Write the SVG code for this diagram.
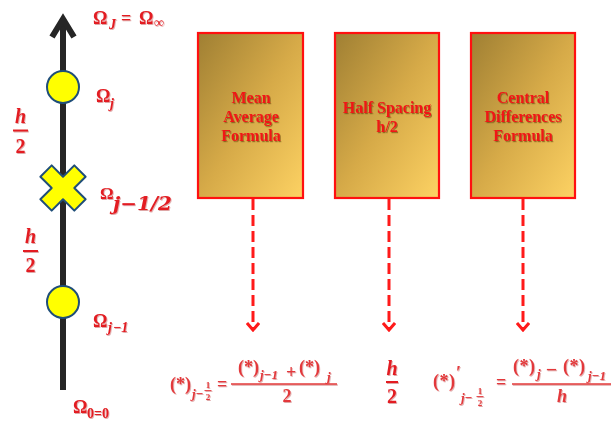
<svg xmlns="http://www.w3.org/2000/svg" width="611" height="424" viewBox="0 0 611 424">
<defs>
<linearGradient id="gold" x1="0" y1="0" x2="1" y2="1">
<stop offset="0" stop-color="#9f7f33"/>
<stop offset="0.5" stop-color="#d6aa48"/>
<stop offset="1" stop-color="#fdd263"/>
</linearGradient>
<filter id="sh" x="-10%" y="-10%" width="130%" height="140%">
<feDropShadow dx="1" dy="1.2" stdDeviation="0.7" flood-color="#5a3800" flood-opacity="0.55"/>
</filter>
<filter id="sh2" x="-10%" y="-10%" width="130%" height="140%">
<feDropShadow dx="0.8" dy="1" stdDeviation="0.6" flood-color="#a01010" flood-opacity="0.35"/>
</filter>
<marker id="chev" viewBox="0 0 10 14" refX="8" refY="7" markerWidth="10" markerHeight="14" markerUnits="userSpaceOnUse" orient="auto">
<path d="M1,1 L8,7 L1,13" fill="none" stroke="#ff1a1a" stroke-width="3"/>
</marker>
</defs>
<style>
.lbl{font-family:"Liberation Serif",serif;font-weight:bold;fill:#e31e24;}
.sub{font-family:"Liberation Serif",serif;font-weight:bold;font-style:italic;fill:#e31e24;}
.box{fill:url(#gold);stroke:#ff1010;stroke-width:2.2;}
.btxt{font-family:"Liberation Serif",serif;font-weight:bold;font-size:16px;fill:#f01818;text-anchor:middle;}
.conn{stroke:#ff1a1a;stroke-width:3;stroke-dasharray:11 5;fill:none;}
.fm{font-family:"Liberation Serif",serif;font-weight:bold;font-size:18px;fill:#e3383a;}
.fs{font-family:"Liberation Serif",serif;font-weight:bold;font-style:italic;font-size:13px;fill:#e3383a;}
.ft{font-family:"Liberation Serif",serif;font-weight:bold;font-size:9px;fill:#e3383a;}
.pt{fill:#ffff00;stroke:#1f4e79;stroke-width:2;}
</style>
<rect width="611" height="424" fill="#ffffff"/>

<g id="axis">
<line x1="63" y1="390" x2="63" y2="20" stroke="#262626" stroke-width="6"/>
<path d="M52,37 L63,19 L74,37" fill="none" stroke="#262626" stroke-width="6" stroke-linejoin="miter"/>
</g>

<g id="point-j">
<circle class="pt" cx="63" cy="87" r="16"/>
</g>
<g id="point-j-half">
<path class="pt" transform="translate(63,188) rotate(45)" d="M-8,-24 L8,-24 L8,-8 L24,-8 L24,8 L8,8 L8,24 L-8,24 L-8,8 L-24,8 L-24,-8 L-8,-8 Z" stroke-linejoin="round"/>
</g>
<g id="point-j-1">
<circle class="pt" cx="63" cy="302" r="16"/>
</g>

<g id="labels-omega" filter="url(#sh2)">
<text class="lbl" x="93" y="24" font-size="18">Ω</text>
<text class="sub" x="109" y="29" font-size="14">J</text>
<text class="lbl" x="121" y="24" font-size="18">=</text>
<text class="lbl" x="139" y="24" font-size="18">Ω</text>
<text class="lbl" x="154" y="27" font-size="14">∞</text>

<text class="lbl" x="96" y="102" font-size="18">Ω</text>
<text class="sub" x="110" y="108" font-size="14">j</text>

<text class="lbl" x="100" y="199" font-size="17">Ω</text>
<text x="113" y="210" font-size="18" font-family="'DejaVu Serif',serif" font-weight="bold" font-style="italic" fill="#e31e24" textLength="59" lengthAdjust="spacingAndGlyphs">j−1/2</text>

<text class="lbl" x="93" y="327" font-size="18">Ω</text>
<text class="sub" x="108" y="332" font-size="14">j<tspan dx="1">−1</tspan></text>

<text class="lbl" x="73" y="413" font-size="18">Ω</text>
<text class="lbl" x="87" y="418" font-size="14">0=0</text>
</g>

<g id="spacing-upper" filter="url(#sh2)">
<text class="sub" x="20.5" y="123" font-size="20" text-anchor="middle">h</text>
<line x1="13" y1="130.5" x2="28" y2="130.5" stroke="#e31e24" stroke-width="2"/>
<text class="lbl" x="20.5" y="153" font-size="20" text-anchor="middle">2</text>
</g>
<g id="spacing-lower" filter="url(#sh2)">
<text class="sub" x="30.5" y="243" font-size="20" text-anchor="middle">h</text>
<line x1="23" y1="251" x2="38" y2="251" stroke="#e31e24" stroke-width="2"/>
<text class="lbl" x="30.5" y="272" font-size="20" text-anchor="middle">2</text>
</g>

<g id="box-mean">
<rect class="box" x="198" y="33" width="105" height="165"/>
<g filter="url(#sh)">
<text class="btxt" x="251" y="103">Mean</text>
<text class="btxt" x="251" y="122">Average</text>
<text class="btxt" x="251" y="141">Formula</text>
</g>
</g>
<g id="box-half">
<rect class="box" x="335" y="33" width="104" height="165"/>
<g filter="url(#sh)">
<text class="btxt" x="387" y="113">Half Spacing</text>
<text class="btxt" x="387" y="132">h/2</text>
</g>
</g>
<g id="box-central">
<rect class="box" x="471" y="33" width="104" height="165"/>
<g filter="url(#sh)">
<text class="btxt" x="523" y="103">Central</text>
<text class="btxt" x="523" y="122">Differences</text>
<text class="btxt" x="523" y="141">Formula</text>
</g>
</g>

<g id="connectors">
<line class="conn" x1="253" y1="199" x2="253" y2="330" marker-end="url(#chev)"/>
<line class="conn" x1="389" y1="199" x2="389" y2="330" marker-end="url(#chev)"/>
<line class="conn" x1="523" y1="199" x2="523" y2="330" marker-end="url(#chev)"/>
</g>

<g id="formula-mean" filter="url(#sh2)">
<text class="fm" x="170" y="390" textLength="21" lengthAdjust="spacing">(*)</text>
<text class="fs" x="192" y="398">j−</text>
<text class="ft" x="208" y="388" text-anchor="middle">1</text>
<line x1="204.5" y1="390.5" x2="211.5" y2="390.5" stroke="#e3383a" stroke-width="0.9"/>
<text class="ft" x="208" y="400" text-anchor="middle">2</text>
<text class="fm" x="217" y="390">=</text>
<line x1="231" y1="384" x2="337" y2="384" stroke="#e3383a" stroke-width="1.4"/>
<text class="fm" x="238" y="373" textLength="21" lengthAdjust="spacing">(*)</text>
<text class="fs" x="260" y="379">j−1</text>
<text class="fm" x="286" y="378" font-size="13">+</text>
<text class="fm" x="299" y="373" textLength="21" lengthAdjust="spacing">(*)</text>
<text class="fs" x="327" y="381">j</text>
<text class="fm" x="287" y="402" text-anchor="middle">2</text>
</g>

<g id="formula-half" filter="url(#sh2)">
<text class="sub" x="392" y="375" font-size="20" text-anchor="middle">h</text>
<line x1="386" y1="382" x2="398" y2="382" stroke="#e31e24" stroke-width="2"/>
<text class="lbl" x="392" y="403" font-size="20" text-anchor="middle">2</text>
</g>

<g id="formula-central" filter="url(#sh2)">
<text class="fm" x="433" y="387" textLength="22" lengthAdjust="spacing">(*)</text>
<text class="fm" x="456" y="379" font-size="13">′</text>
<text class="fs" x="461" y="402">j−</text>
<text class="ft" x="480" y="394" text-anchor="middle">1</text>
<line x1="476.5" y1="396.5" x2="483.5" y2="396.5" stroke="#e3383a" stroke-width="0.9"/>
<text class="ft" x="480" y="406" text-anchor="middle">2</text>
<text class="fm" x="496" y="388">=</text>
<line x1="512" y1="384" x2="611" y2="384" stroke="#e3383a" stroke-width="1.4"/>
<text class="fm" x="513" y="372" textLength="22" lengthAdjust="spacing">(*)</text>
<text class="fs" x="537" y="378">j</text>
<text class="fm" x="547" y="374">–</text>
<text class="fm" x="563" y="372" textLength="22" lengthAdjust="spacing">(*)</text>
<text class="fs" x="588" y="380">j−1</text>
<text class="fm" x="562" y="402" text-anchor="middle" font-style="italic">h</text>
</g>
</svg>
